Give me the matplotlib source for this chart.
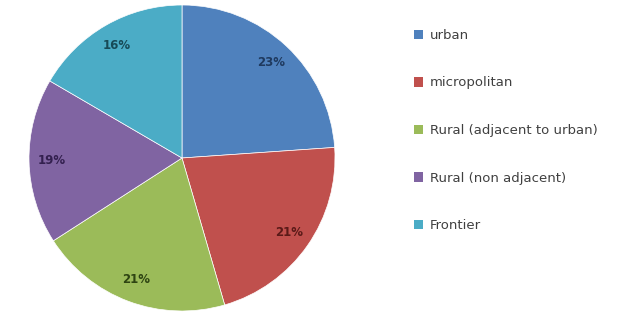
import matplotlib
matplotlib.use("Agg")
import matplotlib.pyplot as plt
from matplotlib.patches import Patch
import numpy as np

categories = ["urban", "micropolitan", "Rural (adjacent to urban)", "Rural (non adjacent)", "Frontier"]
values = [23.9, 21.6, 20.4, 17.5, 16.6]
pct_labels = ["23%", "21%", "21%", "19%", "16%"]
colors = ["#4F81BD", "#C0504D", "#9BBB59", "#8064A2", "#4BACC6"]
label_colors = ["#1F3A5F", "#5A1A18", "#2E4412", "#33204F", "#174A57"]

fig = plt.figure(figsize=(6.18, 3.15), dpi=100)
r_px = 153
cx, cy = 182, 158
ax = fig.add_axes([(cx - r_px) / 618, (315 - cy - r_px) / 315, 2 * r_px / 618, 2 * r_px / 315])
wedges, texts = ax.pie(
    values, colors=colors, startangle=90, counterclock=False,
    wedgeprops=dict(edgecolor="white", linewidth=0.5))
for w, lab, c in zip(wedges, pct_labels, label_colors):
    ang = np.deg2rad((w.theta1 + w.theta2) / 2)
    ax.text(0.85 * np.cos(ang), 0.85 * np.sin(ang), lab, ha="center", va="center",
            fontsize=8.5, fontweight="bold", color=c)
ax.set_xlim(-1, 1)
ax.set_ylim(-1, 1)
ax.set_aspect("equal")

handles = [Patch(facecolor=c, edgecolor="none") for c in colors]
fig.legend(handles, categories, loc="upper left", bbox_to_anchor=(402 / 618, 1 - 17 / 315),
           frameon=False, fontsize=9.5, handlelength=0.72, handleheight=0.72,
           handletextpad=0.5, labelspacing=2.62, labelcolor="#404040")

fig.savefig("out.png", dpi=100)
